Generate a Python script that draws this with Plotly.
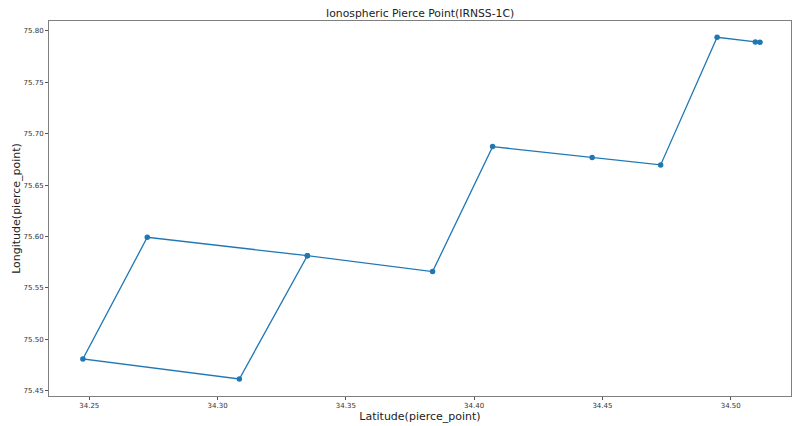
import plotly.graph_objects as go

latitude = [34.3350, 34.2726, 34.2475, 34.3085, 34.3350, 34.3838, 34.4072, 34.4460, 34.4727, 34.4947, 34.5096, 34.5114]
longitude = [75.5813, 75.5992, 75.4808, 75.4614, 75.5813, 75.5658, 75.6874, 75.6767, 75.6696, 75.7938, 75.7892, 75.7889]

x_ticks = [34.25, 34.30, 34.35, 34.40, 34.45, 34.50]
y_ticks = [75.45, 75.50, 75.55, 75.60, 75.65, 75.70, 75.75, 75.80]

fig = go.Figure()
fig.add_trace(go.Scatter(
    x=latitude, y=longitude, mode="lines+markers",
    line=dict(color="#1f77b4", width=1.3),
    marker=dict(color="#1f77b4", size=5.5),
    showlegend=False,
))

axis_common = dict(
    showgrid=False, zeroline=False, showline=True, linecolor="#7f7f7f", linewidth=1,
    mirror=True, ticks="outside", ticklen=3, tickcolor="#555555",
    tickfont=dict(family="DejaVu Sans", size=7, color="#333333"),
)

fig.update_layout(
    width=795, height=426,
    margin=dict(l=49, r=4, t=21, b=30),
    paper_bgcolor="white", plot_bgcolor="white",
    title=dict(text="Ionospheric Pierce Point(IRNSS-1C)", x=0.5285, xanchor="center",
               y=1 - 13 / 426, yanchor="middle",
               font=dict(family="DejaVu Sans", size=10.8, color="#222222")),
    xaxis=dict(range=[34.2343, 34.5235], tickvals=x_ticks, ticktext=[f"{v:.2f}" for v in x_ticks],
               title=dict(text="Latitude(pierce_point)", standoff=1,
                          font=dict(family="DejaVu Sans", size=11, color="#222222")),
               **axis_common),
    yaxis=dict(range=[75.4448, 75.8096], tickvals=y_ticks, ticktext=[f"{v:.2f}" for v in y_ticks],
               title=dict(text="Longitude(pierce_point)", standoff=0,
                          font=dict(family="DejaVu Sans", size=11, color="#222222")),
               **axis_common),
)

fig.write_html("out.html")
